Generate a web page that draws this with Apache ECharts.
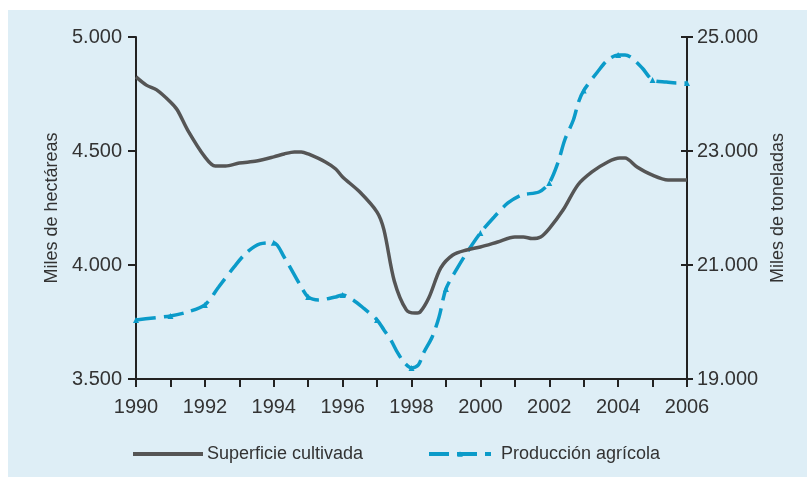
<!DOCTYPE html>
<html>
<head>
<meta charset="utf-8">
<script src="https://cdn.jsdelivr.net/npm/echarts@6/dist/echarts.min.js"></script>
<style>
  html, body { margin: 0; padding: 0; background: #ffffff; }
  #panel { position: absolute; left: 8px; top: 10px; right: 0; bottom: 0; background: #deeef6; }
  #chart { position: absolute; left: 0; top: 0; width: 807px; height: 477px; }
</style>
</head>
<body>
<div id="panel"></div>
<div id="chart"></div>
<script>
// Superficie cultivada (miles de hectáreas)
const surfYears = [1990, 1990.3, 1990.6, 1991, 1991.2, 1991.5, 1992, 1992.3, 1992.6, 1993, 1993.5,
  1994, 1994.3, 1994.6, 1994.8, 1995, 1995.5, 1995.8, 1996, 1996.5, 1997, 1997.2, 1997.5,
  1997.85, 1998.1, 1998.25, 1998.5, 1998.85, 1999.2, 1999.6, 2000, 2000.5, 2001, 2001.25,
  2001.5, 2001.75, 2002, 2002.4, 2002.83, 2003.24, 2003.7, 2004.05, 2004.2, 2004.55, 2004.98,
  2005.45, 2006];
const surfValues = [4825, 4789, 4768, 4715, 4680, 4592, 4474, 4434, 4434, 4447, 4456,
  4474, 4487, 4496, 4496, 4487, 4452, 4421, 4386, 4320, 4232, 4154, 3930,
  3803, 3789, 3794, 3855, 3987, 4044, 4066, 4079, 4101, 4123, 4123,
  4116, 4123, 4160, 4241, 4351, 4408, 4452, 4469, 4469, 4430, 4395,
  4373, 4373];

// Producción agrícola (miles de toneladas)
const prodYears = [1990, 1990.5, 1991, 1991.5, 1992, 1992.4, 1992.85, 1993.2, 1993.6, 1994,
  1994.3, 1994.8, 1995, 1995.3, 1995.8, 1996, 1996.3, 1996.6, 1997, 1997.2, 1997.4, 1997.6,
  1997.8, 1998, 1998.2, 1998.35, 1998.6, 1998.8, 1999, 1999.3, 1999.6, 2000, 2000.4, 2000.8,
  2001.2, 2001.7, 2002, 2002.25, 2002.45, 2002.7, 2002.85, 2003, 2003.4, 2003.7, 2004, 2004.2,
  2004.4, 2004.7, 2005, 2005.4, 2005.7, 2006];
const prodValues = [20036, 20071, 20106, 20177, 20300, 20615, 20966, 21211, 21370, 21390,
  21141, 20615, 20440, 20387, 20440, 20475, 20387, 20247, 20036, 19861, 19685, 19457,
  19282, 19194, 19247, 19457, 19738, 20089, 20580, 20913, 21211, 21562, 21843, 22088,
  22229, 22281, 22440, 22790, 23193, 23544, 23860, 24060, 24386, 24597, 24684, 24684,
  24632, 24456, 24246, 24211, 24193, 24193];

const xTickYears = [1990, 1992, 1994, 1996, 1998, 2000, 2002, 2004, 2006];
const seriesNames = ['Superficie cultivada', 'Producción agrícola'];
const axisNames = ['Miles de hectáreas', 'Miles de toneladas'];

const FONT = 'Liberation Sans';
const TEXT = '#333333';
const GRAY = '#555555';
const CYAN = '#0b9bc9';
const AXIS = '#222222';

function thousands(v) {
  return String(v).replace(/\B(?=(\d{3})+(?!\d))/g, '.');
}

const surfData = surfYears.map((x, i) => [x, surfValues[i]]);
const prodData = prodYears.map((x, i) => ({
  value: [x, prodValues[i]],
  symbol: Number.isInteger(x) ? 'triangle' : 'none'
}));

const chart = echarts.init(document.getElementById('chart'), null, { renderer: 'canvas' });

chart.setOption({
  backgroundColor: 'transparent',
  animation: false,
  grid: { left: 136, right: 120, top: 37, bottom: 98 },
  legend: [
    {
      left: 131, top: 445, padding: 0, itemWidth: 70, itemHeight: 7, itemGap: 0,
      data: [{ name: seriesNames[0], itemStyle: { opacity: 0 } }],
      lineStyle: { width: 4 },
      textStyle: { fontFamily: FONT, fontSize: 18, color: TEXT, padding: [0, 0, 0, -1] }
    },
    {
      left: 427, top: 445, padding: 0, itemWidth: 62, itemHeight: 7, itemGap: 0,
      data: [seriesNames[1]],
      lineStyle: { width: 4 },
      textStyle: { fontFamily: FONT, fontSize: 18, color: TEXT, padding: [0, 0, 0, 5] }
    }
  ],
  xAxis: {
    type: 'value', min: 1990, max: 2006, interval: 1,
    splitLine: { show: false },
    axisLine: { show: true, onZero: false, lineStyle: { color: AXIS, width: 2 } },
    axisTick: { show: true, length: 8, lineStyle: { color: AXIS, width: 2 } },
    axisLabel: {
      margin: 18, fontFamily: FONT, fontSize: 20, color: TEXT,
      showMinLabel: true, showMaxLabel: true,
      formatter: v => (xTickYears.indexOf(v) >= 0 ? String(v) : '')
    }
  },
  yAxis: [
    {
      type: 'value', position: 'left', min: 3500, max: 5000, interval: 500,
      name: axisNames[0], nameLocation: 'middle', nameRotate: 90, nameGap: 71,
      nameTextStyle: { fontFamily: FONT, fontSize: 18, color: TEXT },
      splitLine: { show: false },
      axisLine: { show: true, lineStyle: { color: AXIS, width: 2 } },
      axisTick: { show: true, length: 8, lineStyle: { color: AXIS, width: 2 } },
      axisLabel: { margin: 14, fontFamily: FONT, fontSize: 20, color: TEXT, formatter: thousands }
    },
    {
      type: 'value', position: 'right', min: 19000, max: 25000, interval: 2000,
      name: axisNames[1], nameLocation: 'middle', nameRotate: 90, nameGap: 77,
      nameTextStyle: { fontFamily: FONT, fontSize: 18, color: TEXT },
      splitLine: { show: false },
      axisLine: { show: true, lineStyle: { color: AXIS, width: 2 } },
      axisTick: { show: true, length: 6, lineStyle: { color: AXIS, width: 2 } },
      axisLabel: { margin: 10, fontFamily: FONT, fontSize: 20, color: TEXT, formatter: thousands }
    },
    {
      // inner half of the right-hand ticks, so they cross the axis line
      type: 'value', position: 'right', min: 19000, max: 25000, interval: 2000,
      splitLine: { show: false },
      axisLine: { show: false },
      axisTick: { show: true, inside: true, length: 6, lineStyle: { color: AXIS, width: 2 } },
      axisLabel: { show: false }
    }
  ],
  series: [
    {
      name: seriesNames[0], type: 'line', yAxisIndex: 0,
      data: surfData, smooth: 0.3, symbol: 'none', showSymbol: false,
      lineStyle: { color: GRAY, width: 3.5 },
      itemStyle: { color: GRAY },
      z: 3
    },
    {
      name: seriesNames[1], type: 'line', yAxisIndex: 1,
      data: prodData, smooth: 0.3, symbol: 'triangle', symbolSize: 6, showSymbol: true,
      lineStyle: { color: CYAN, width: 3.5, type: [20, 8] },
      itemStyle: { color: CYAN },
      z: 2
    }
  ]
});
</script>
</body>
</html>
